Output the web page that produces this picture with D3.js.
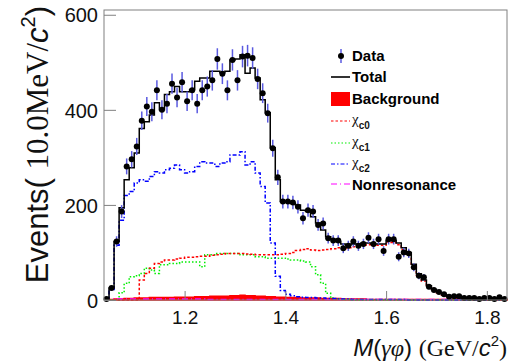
<!DOCTYPE html>
<html>
<head>
<meta charset="utf-8">
<script src="https://cdn.jsdelivr.net/npm/d3@7"></script>
<style>
  body { margin: 0; background: #fff; }
  svg { display: block; }
  text { font-family: "Liberation Sans", Arial, sans-serif; }
</style>
</head>
<body>
<svg id="chart"></svg>
<script>
var width = 531;
var height = 364;

// 10 MeV bins from 1.04 to 1.84 GeV/c^2 (bin centres)
var binCenters = d3.range(80).map(i => +(1.045 + i * 0.01).toFixed(3));
var binWidth = 0.01;

var dataCounts = [
  2, 25, 123, 186, 281, 296, 323, 377, 407, 396,
  441, 400, 413, 455, 426, 458, 418, 441, 413, 441,
  449, 462, 507, 476, 441, 505, 462, 512, 514, 509,
  465, 435, 393, 319, 258, 207, 207, 205, 196, 172,
  189, 186, 158, 161, 130, 125, 125, 109, 114, 123,
  114, 118, 131, 118, 128, 103, 128, 128, 91, 100,
  98, 69, 51, 48, 28, 21, 17, 12, 7, 8,
  8, 4, 4, 4, 2, 4, 4, 2, 6, 2
];

var totalFit = [
  2, 25, 123, 194, 253, 278, 309, 361, 375, 389,
  415, 400, 432, 438, 449, 438, 438, 443, 460, 467,
  467, 481, 481, 478, 481, 505, 507, 516, 477, 488,
  467, 421, 394, 320, 253, 207, 207, 203, 200, 189,
  186, 175, 162, 147, 133, 128, 123, 118, 115, 118,
  118, 120, 120, 118, 118, 118, 125, 125, 120, 110,
  100, 75, 55, 42, 30, 22, 16, 11, 8, 6,
  5, 4, 3, 3, 2, 2, 2, 1, 1, 1
];

var background = [
  0, 1, 2, 2, 3, 3, 4, 4, 4, 5,
  5, 5, 5, 5, 6, 6, 6, 6, 7, 7,
  7, 8, 8, 8, 8, 9, 9, 10, 9, 9,
  8, 8, 7, 7, 6, 6, 5, 5, 5, 4,
  4, 4, 4, 3, 3, 3, 3, 2, 2, 2,
  2, 2, 1, 1, 1, 1, 1, 1, 1, 1,
  1, 1, 1, 1, 1, 1, 1, 1, 1, 1,
  1, 1, 1, 1, 1, 1, 1, 1, 1, 1
];

var chiC0 = [
  0, 0, 0, 0, 0, 0, 0, 42, 56, 67,
  77, 80, 84, 84, 86, 88, 90, 90, 91, 92,
  92, 94, 95, 96, 98, 98, 98, 98, 97, 96,
  95, 95, 95, 95, 95, 96, 98, 100, 104, 106,
  108, 105, 104, 105, 106, 108, 110, 108, 110, 112,
  112, 115, 116, 114, 115, 115, 122, 121, 116, 106,
  97, 72, 52, 40, 28, 20, 15, 10, 7, 5,
  4, 3, 3, 2, 2, 1, 1, 1, 1, 1
];

var chiC1 = [
  0, 0, 0, 15, 35, 49, 51, 56, 67, 63,
  56, 74, 74, 77, 77, 80, 80, 80, 80, 70,
  95, 95, 98, 98, 98, 98, 98, 95, 95, 95,
  91, 91, 88, 88, 88, 88, 86, 84, 84, 82,
  80, 70, 53, 35, 14, 4, 2, 1, 1, 0,
  0, 0, 0, 0, 0, 0, 0, 0, 0, 0,
  0, 0, 0, 0, 0, 0, 0, 0, 0, 0,
  0, 0, 0, 0, 0, 0, 0, 0, 0, 0
];

var chiC2 = [
  2, 22, 115, 168, 220, 228, 246, 253, 250, 260,
  270, 267, 274, 277, 284, 274, 267, 270, 281, 291,
  288, 288, 281, 288, 291, 305, 305, 312, 284, 291,
  267, 239, 204, 120, 50, 20, 12, 9, 7, 6,
  5, 5, 4, 4, 3, 3, 2, 2, 2, 1,
  1, 1, 1, 1, 1, 1, 1, 1, 1, 1,
  0, 0, 0, 0, 0, 0, 0, 0, 0, 0,
  0, 0, 0, 0, 0, 0, 0, 0, 0, 0
];

var nonResonance = [
  2, 2, 2, 2, 2, 2, 2, 2, 2, 2,
  2, 2, 2, 2, 2, 2, 2, 2, 2, 2,
  1, 1, 1, 1, 1, 1, 1, 1, 1, 1,
  1, 1, 1, 1, 1, 1, 1, 1, 1, 1,
  1, 1, 1, 1, 1, 1, 1, 1, 1, 1,
  1, 1, 1, 1, 1, 1, 1, 1, 1, 1,
  1, 1, 1, 1, 1, 1, 1, 1, 1, 1,
  1, 1, 1, 1, 1, 1, 1, 1, 1, 1
];

var xTicks = [1.2, 1.4, 1.6, 1.8];
var yTicks = [0, 200, 400, 600];

var x = d3.scaleLinear().domain([1.04, 1.84]).range([104, 507]);
var y = d3.scaleLinear().domain([0, 610]).range([300, 10]);

var svg = d3.select("#chart")
  .attr("width", width)
  .attr("height", height);

// step histogram helper: points at bin low edges, plus final edge
function histPoints(values) {
  var pts = values.map((v, i) => [binCenters[i] - binWidth / 2, v]);
  pts.push([binCenters[values.length - 1] + binWidth / 2, values[values.length - 1]]);
  return pts;
}

var stepLine = d3.line()
  .x(d => x(d[0]))
  .y(d => y(d[1]))
  .curve(d3.curveStepAfter);

var stepArea = d3.area()
  .x(d => x(d[0]))
  .y0(y(0))
  .y1(d => y(d[1]))
  .curve(d3.curveStepAfter);

// background (filled)
svg.append("path")
  .attr("d", stepArea(histPoints(background)))
  .attr("fill", "#ff0000")
  .attr("stroke", "#ff0000")
  .attr("stroke-width", 1.5);

var components = [
  { values: nonResonance, color: "#ff00ff", dash: "6,3,1,3" },
  { values: chiC1, color: "#00ee00", dash: "1.5,2" },
  { values: chiC0, color: "#ff0000", dash: "2.5,2" },
  { values: chiC2, color: "#0000ff", dash: "4,2,1.5,2" }
];

components.forEach(c => {
  svg.append("path")
    .attr("d", stepLine(histPoints(c.values)))
    .attr("fill", "none")
    .attr("stroke", c.color)
    .attr("stroke-width", 1.5)
    .attr("stroke-dasharray", c.dash);
});

// total fit
svg.append("path")
  .attr("d", stepLine(histPoints(totalFit)))
  .attr("fill", "none")
  .attr("stroke", "#000")
  .attr("stroke-width", 1.5);

// data with sqrt(N) errors
var pts = svg.append("g")
  .selectAll("g")
  .data(binCenters.map((m, i) => ({ m: m, n: dataCounts[i] })))
  .enter()
  .append("g");

pts.append("line")
  .attr("x1", d => x(d.m))
  .attr("x2", d => x(d.m))
  .attr("y1", d => y(Math.max(0, d.n - Math.sqrt(d.n))))
  .attr("y2", d => y(d.n + Math.sqrt(d.n)))
  .attr("stroke", "#5a5ae0")
  .attr("stroke-width", 1.5);

pts.append("circle")
  .attr("cx", d => x(d.m))
  .attr("cy", d => y(d.n))
  .attr("r", 3)
  .attr("fill", "#000");

// frame
svg.append("rect")
  .attr("x", 104)
  .attr("y", 10)
  .attr("width", 403)
  .attr("height", 290)
  .attr("fill", "none")
  .attr("stroke", "#808080")
  .attr("stroke-width", 1);

var xAxis = d3.axisBottom(x)
  .tickValues(xTicks)
  .tickSize(-9)
  .tickSizeOuter(0)
  .tickPadding(11)
  .tickFormat(d3.format(".1f"));

var yAxis = d3.axisLeft(y)
  .tickValues(yTicks)
  .tickSize(-12)
  .tickSizeOuter(0)
  .tickPadding(6);

var gx = svg.append("g")
  .attr("transform", "translate(0,300)")
  .call(xAxis);

var gy = svg.append("g")
  .attr("transform", "translate(104,0)")
  .call(yAxis);

[gx, gy].forEach(g => {
  g.select(".domain").remove();
  g.selectAll(".tick line").attr("stroke", "#808080");
  g.selectAll(".tick text")
    .attr("font-family", "Liberation Sans, Arial, sans-serif")
    .attr("fill", "#111");
});
gx.selectAll(".tick text").attr("font-size", 19);
gy.selectAll(".tick text").attr("font-size", 20).attr("dy", "0.36em");

// axis titles
var xTitle = svg.append("text")
  .attr("x", 507)
  .attr("y", 356)
  .attr("text-anchor", "end")
  .attr("font-size", 24)
  .attr("fill", "#111");
xTitle.append("tspan").attr("font-style", "italic").text("M");
xTitle.append("tspan").text("(");
xTitle.append("tspan").attr("font-family", "Liberation Serif, serif").attr("font-style", "italic").text("γφ");
xTitle.append("tspan").text(") ");
xTitle.append("tspan").attr("font-family", "Liberation Serif, serif").text("(GeV/");
xTitle.append("tspan").attr("font-style", "italic").text("c");
xTitle.append("tspan").attr("font-size", 15).attr("dy", -10).text("2");
xTitle.append("tspan").attr("font-family", "Liberation Serif, serif").attr("dy", 10).text(")");

var yTitle = svg.append("text")
  .attr("transform", "translate(48,6) rotate(-90)")
  .attr("text-anchor", "end")
  .attr("font-size", 31)
  .attr("fill", "#111");
yTitle.append("tspan").text("Events( ");
yTitle.append("tspan").attr("font-family", "Liberation Serif, serif").text("10.0MeV/");
yTitle.append("tspan").attr("font-style", "italic").text("c");
yTitle.append("tspan").attr("font-size", 20).attr("dy", -13).text("2");
yTitle.append("tspan").attr("dy", 13).text(")");

// legend
var legendX = 331;
var legendTextX = 352;

var lg = svg.append("g");

lg.append("line")
  .attr("x1", 341).attr("x2", 341).attr("y1", 49).attr("y2", 63)
  .attr("stroke", "#5a5ae0").attr("stroke-width", 1.5);
lg.append("circle").attr("cx", 341).attr("cy", 56).attr("r", 3).attr("fill", "#000");
lg.append("text").attr("x", legendTextX).attr("y", 61)
  .attr("font-size", 15).attr("font-weight", "bold").text("Data");

lg.append("line")
  .attr("x1", legendX).attr("x2", 350).attr("y1", 77).attr("y2", 77)
  .attr("stroke", "#333").attr("stroke-width", 2);
lg.append("text").attr("x", legendTextX).attr("y", 82)
  .attr("font-size", 15).attr("font-weight", "bold").text("Total");

lg.append("rect")
  .attr("x", legendX).attr("y", 92).attr("width", 19).attr("height", 14)
  .attr("fill", "#ff0000");
lg.append("text").attr("x", legendTextX).attr("y", 104)
  .attr("font-size", 15).attr("font-weight", "bold").text("Background");

var chiEntries = [
  { sub: "c0", color: "#ff0000", dash: "2.5,2", yy: 121 },
  { sub: "c1", color: "#00ee00", dash: "1.5,2", yy: 143 },
  { sub: "c2", color: "#0000ff", dash: "4,2,1.5,2", yy: 164 }
];

chiEntries.forEach(e => {
  lg.append("line")
    .attr("x1", legendX).attr("x2", 350).attr("y1", e.yy).attr("y2", e.yy)
    .attr("stroke", e.color).attr("stroke-width", 1.2)
    .attr("stroke-dasharray", e.dash);
  var t = lg.append("text").attr("x", legendTextX).attr("y", e.yy + 3)
    .attr("font-size", 15).attr("fill", "#111");
  t.append("tspan").attr("font-family", "Liberation Serif, serif").text("χ");
  t.append("tspan").attr("font-size", 10).attr("font-weight", "bold").attr("dy", 5).text(e.sub);
});

lg.append("line")
  .attr("x1", legendX).attr("x2", 350).attr("y1", 184).attr("y2", 184)
  .attr("stroke", "#ff00ff").attr("stroke-width", 1.2)
  .attr("stroke-dasharray", "6,3,1,3");
lg.append("text").attr("x", legendTextX).attr("y", 190)
  .attr("font-size", 15).attr("font-weight", "bold").text("Nonresonance");
</script>
</body>
</html>
